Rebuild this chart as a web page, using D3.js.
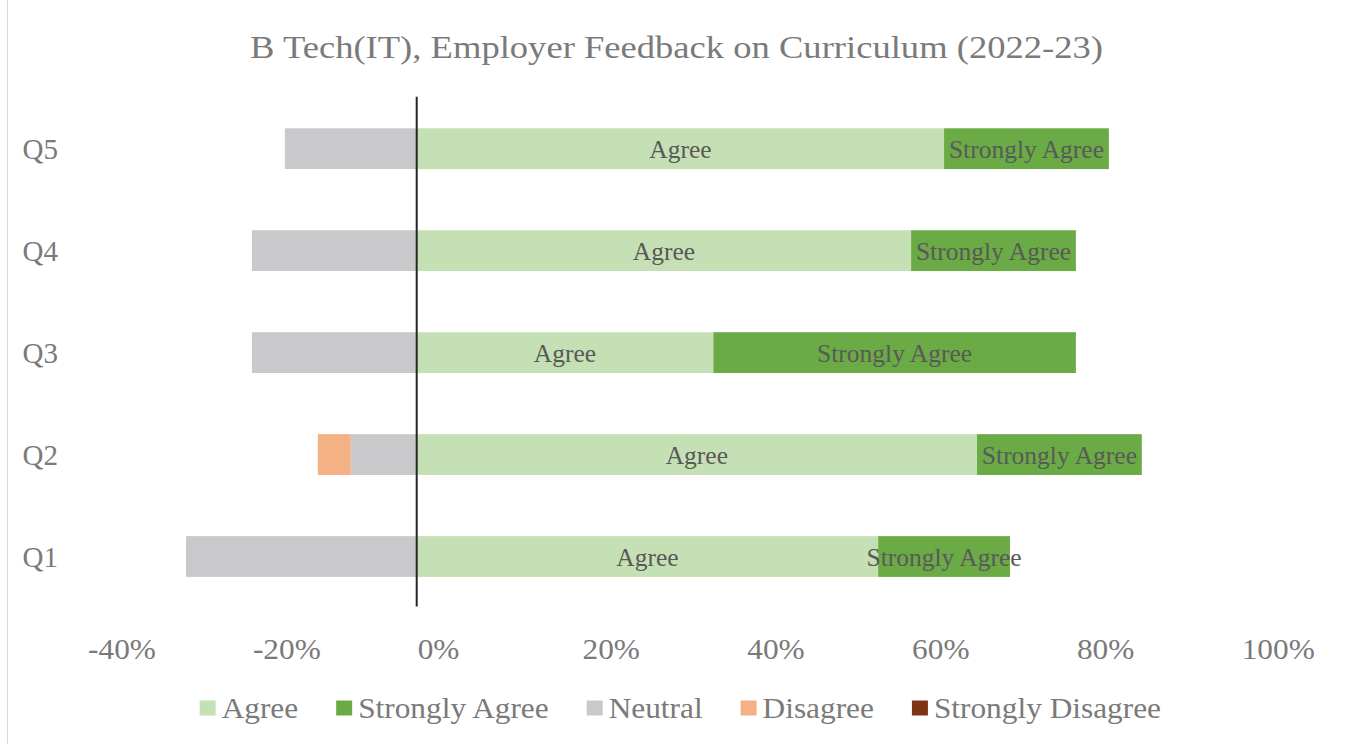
<!DOCTYPE html>
<html>
<head>
<meta charset="utf-8">
<script src="https://cdn.jsdelivr.net/npm/d3@7"></script>
<style>
  html, body { margin: 0; padding: 0; background: #fff; }
  svg { display: block; }
  text { font-family: "Liberation Serif", "DejaVu Serif", serif; }
</style>
</head>
<body>
<svg id="chart" width="1346" height="744"></svg>
<script>
// ---- data (percent of respondents) ----
const categories = ["Q1", "Q2", "Q3", "Q4", "Q5"];
const agree = [56, 68, 36, 60, 64];
const stronglyAgree = [16, 20, 44, 20, 20];
const neutral = [28, 8, 20, 20, 16];
const disagree = [0, 4, 0, 0, 0];
const stronglyDisagree = [0, 0, 0, 0, 0];
const seriesNames = ["Agree", "Strongly Agree", "Neutral", "Disagree", "Strongly Disagree"];
const seriesColors = ["#c5e0b4", "#6aab45", "#c9c9cb", "#f4b183", "#7f3514"];
const tickValues = [-40, -20, 0, 20, 40, 60, 80, 100];
const titleText = "B Tech(IT), Employer Feedback on Curriculum (2022-23)";
const labelledSeries = ["Agree", "Strongly Agree"];

// build table: negative side series stored as negatives for diverging stack
const rows = categories.map((c, i) => ({
  cat: c,
  "Agree": agree[i],
  "Strongly Agree": stronglyAgree[i],
  "Neutral": -neutral[i],
  "Disagree": -disagree[i],
  "Strongly Disagree": -stronglyDisagree[i]
}));

const svg = d3.select("#chart");
const W = 1346, H = 744;

// frame
svg.append("rect").attr("x", 7.5).attr("y", -2).attr("width", W).attr("height", H + 4)
  .attr("fill", "none").attr("stroke", "#d9d9d9").attr("stroke-width", 1);

const x = d3.scaleLinear().domain([-40, 100]).range([87.1, 1240.7]);
const y = d3.scaleBand().domain(categories.slice().reverse()).range([97.7, 607.5])
  .paddingInner(0.6).paddingOuter(0.3);

function stretch(sel, f) {
  sel.each(function () {
    const len = this.getComputedTextLength();
    d3.select(this).attr("textLength", len * f).attr("lengthAdjust", "spacingAndGlyphs");
  });
}

// title
const title = svg.append("text")
  .attr("x", 676.5).attr("y", 58).attr("text-anchor", "middle")
  .attr("font-size", 32).attr("fill", "#7a7a7a").text(titleText);
title.attr("textLength", 853).attr("lengthAdjust", "spacingAndGlyphs");

// stacked bars
const stack = d3.stack().keys(seriesNames).offset(d3.stackOffsetDiverging);
const stacked = stack(rows);
const color = d3.scaleOrdinal().domain(seriesNames).range(seriesColors);

const gBars = svg.append("g");
stacked.forEach(s => {
  gBars.append("g").attr("fill", color(s.key))
    .selectAll("rect").data(s).join("rect")
    .attr("x", d => x(Math.min(d[0], d[1])))
    .attr("y", d => y(d.data.cat))
    .attr("width", d => Math.abs(x(d[1]) - x(d[0])))
    .attr("height", y.bandwidth());
});

// data labels
const gLab = svg.append("g");
stacked.filter(s => labelledSeries.includes(s.key)).forEach(s => {
  const t = gLab.selectAll(null).data(s.filter(d => d[1] !== d[0])).join("text")
    .attr("x", d => x((d[0] + d[1]) / 2))
    .attr("y", d => y(d.data.cat) + y.bandwidth() / 2 + 1)
    .attr("dy", "0.35em")
    .attr("text-anchor", "middle")
    .attr("font-size", 25).attr("fill", "#595959")
    .text(s.key);
  stretch(t, 1.02);
});

// zero line (vertical axis)
svg.append("line")
  .attr("x1", x(0)).attr("x2", x(0))
  .attr("y1", y.range()[0] - 1).attr("y2", y.range()[1] - 1)
  .attr("stroke", "#262626").attr("stroke-width", 2);

// category labels
svg.append("g").selectAll("text").data(categories).join("text")
  .attr("x", 58).attr("y", d => y(d) + y.bandwidth() / 2)
  .attr("dy", "0.35em").attr("text-anchor", "end")
  .attr("font-size", 29).attr("fill", "#7a7a7a").text(d => d);

// x tick labels (left-aligned at tick position)
const xl = svg.append("g").selectAll("text").data(tickValues).join("text")
  .attr("x", d => x(d) + 1).attr("y", 659)
  .attr("text-anchor", "start")
  .attr("font-size", 29).attr("fill", "#7a7a7a")
  .text(d => d + "%");
stretch(xl, 1.08);

// legend
const legend = svg.append("g");
const items = seriesNames.map((n, i) => ({ name: n, color: seriesColors[i] }));
const legItems = [];
items.forEach(it => {
  const g = legend.append("g");
  g.append("rect").attr("x", 0).attr("y", -7.5).attr("width", 16).attr("height", 15).attr("fill", it.color);
  const t = g.append("text").attr("x", 22).attr("y", 0).attr("dy", "0.35em")
    .attr("font-size", 29).attr("fill", "#7a7a7a").text(it.name);
  stretch(t, 1.08);
  const w = 22 + +t.attr("textLength");
  legItems.push({ g, w });
});
const gap = 38;
const total = legItems.reduce((a, b) => a + b.w, 0) + gap * (legItems.length - 1);
let lx = 680.3 - total / 2;
legItems.forEach(li => {
  li.g.attr("transform", `translate(${lx},708)`);
  lx += li.w + gap;
});
</script>
</body>
</html>
